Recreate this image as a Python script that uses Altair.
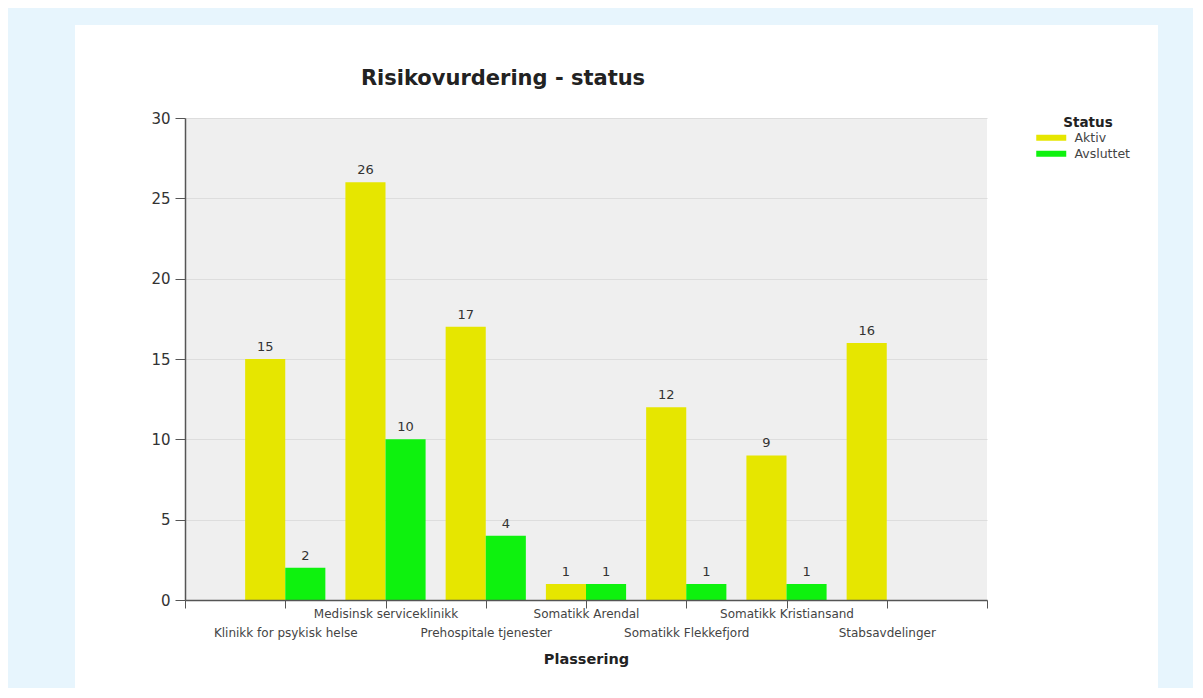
import altair as alt
import pandas as pd

categories = [
    "Klinikk for psykisk helse",
    "Medisinsk serviceklinikk",
    "Prehospitale tjenester",
    "Somatikk Arendal",
    "Somatikk Flekkefjord",
    "Somatikk Kristiansand",
    "Stabsavdelinger",
]
aktiv = [15, 26, 17, 1, 12, 9, 16]
avsluttet = [2, 10, 4, 1, 1, 1, None]
series = ["Aktiv", "Avsluttet"]
colors = ["#e6e600", "#0ef20e"]
y_ticks = [0, 5, 10, 15, 20, 25, 30]
title_text = "Risikovurdering - status"

FONT = "DejaVu Sans"
W, H = 802, 482
PAD = {"left": 177, "top": 110, "right": 206, "bottom": 88}
n = len(categories)

rows = []
for i, cat in enumerate(categories):
    for s, vals in zip(series, (aktiv, avsluttet)):
        if vals[i] is None:
            continue
        rows.append({"Plassering": cat, "pos": i + 1, "Status": s, "Antall": vals[i]})
df = pd.DataFrame(rows)

half = 0.4
base = alt.Chart(df).transform_calculate(
    x0=f"datum.pos - (datum.Status == '{series[0]}' ? {half} : 0)",
    x1=f"datum.pos + (datum.Status == '{series[0]}' ? 0 : {half})",
    xm=f"datum.pos + (datum.Status == '{series[0]}' ? {-half / 2} : {half / 2})",
)

xscale = alt.Scale(domain=[0, n + 1], nice=False, zero=False)
yscale = alt.Scale(domain=[y_ticks[0], y_ticks[-1]], nice=False)

names_js = "[" + ",".join("'" + c + "'" for c in categories) + "]"
label_expr = (
    f"datum.value >= 1 && datum.value <= {n} ? "
    f"(datum.value % 2 == 1 ? ['', {names_js}[datum.value - 1]] : {names_js}[datum.value - 1]) : ''"
)

x_axis = alt.Axis(
    values=list(range(0, n + 2)),
    labelExpr=label_expr,
    labelOverlap=False,
    labelBound=False,
    labelFlush=False,
    labelFont=FONT,
    labelFontSize=12,
    labelColor="#444444",
    labelLineHeight=19,
    labelPadding=0,
    tickSize=8,
    tickColor="#555555",
    domainColor="#555555",
    domainWidth=1.5,
    grid=False,
    title="Plassering",
    titleFont=FONT,
    titleFontSize=14.5,
    titleFontWeight="bold",
    titleColor="#222222",
    titleBaseline="alphabetic",
    titleY=63,
    zindex=1,
)

y_axis = alt.Axis(
    values=y_ticks,
    labelFont=FONT,
    labelFontSize=15,
    labelColor="#333333",
    labelPadding=5,
    tickSize=10,
    tickColor="#555555",
    domainColor="#555555",
    domainWidth=1.5,
    gridColor="#dddddd",
    title=None,
)

bars = base.mark_rect().encode(
    x=alt.X("x0:Q", scale=xscale, axis=x_axis),
    x2="x1:Q",
    y=alt.Y("Antall:Q", scale=yscale, axis=y_axis),
    y2=alt.Y2(datum=0),
    color=alt.Color(
        "Status:N",
        scale=alt.Scale(domain=series, range=colors),
        legend=alt.Legend(
            title="Status",
            orient="none",
            legendX=860,
            legendY=-2,
            titleFont=FONT,
            titleFontSize=13.5,
            titleFontWeight="bold",
            titleColor="#222222",
            titleAnchor="middle",
            titlePadding=2,
            labelFont=FONT,
            labelFontSize=12.5,
            labelColor="#444444",
            labelOffset=17,
            symbolType="M-3,-0.6H3V0.6H-3Z",
            symbolSize=100,
            symbolStrokeWidth=0,
            symbolOpacity=1,
            rowPadding=3,
        ),
    ),
)

labels = base.mark_text(
    baseline="alphabetic", dy=-8, font=FONT, fontSize=13, color="#333333"
).encode(
    x=alt.X("xm:Q", scale=xscale, axis=x_axis),
    y=alt.Y("Antall:Q", scale=yscale, axis=y_axis),
    text="Antall:Q",
)

one = pd.DataFrame({"k": [0]})
frame_color = "#e7f5fd"
left_strip = alt.Chart(one).mark_rect(color=frame_color).encode(
    x=alt.value(-PAD["left"]), x2=alt.value(-110),
    y=alt.value(-PAD["top"]), y2=alt.value(H + PAD["bottom"]),
)
right_strip = alt.Chart(one).mark_rect(color=frame_color).encode(
    x=alt.value(973), x2=alt.value(W + PAD["right"]),
    y=alt.value(-PAD["top"]), y2=alt.value(H + PAD["bottom"]),
)
top_strip = alt.Chart(one).mark_rect(color=frame_color).encode(
    x=alt.value(-PAD["left"]), x2=alt.value(W + PAD["right"]),
    y=alt.value(-PAD["top"]), y2=alt.value(-93),
)
title_mark = alt.Chart(one).mark_text(
    text=title_text, font=FONT, fontSize=21, fontWeight="bold",
    color="#222222", baseline="alphabetic", align="center",
).encode(x=alt.value(318), y=alt.value(-33))

chart = (
    alt.layer(left_strip, right_strip, top_strip, title_mark, bars, labels)
    .properties(
        width=W,
        height=H,
        padding=PAD,
        autosize=alt.AutoSizeParams(type="none"),
        background="white",
    )
    .configure_view(stroke=None, fill="#efefef")
)

chart.save("out.html", embed_options={"renderer": "svg", "actions": False})
